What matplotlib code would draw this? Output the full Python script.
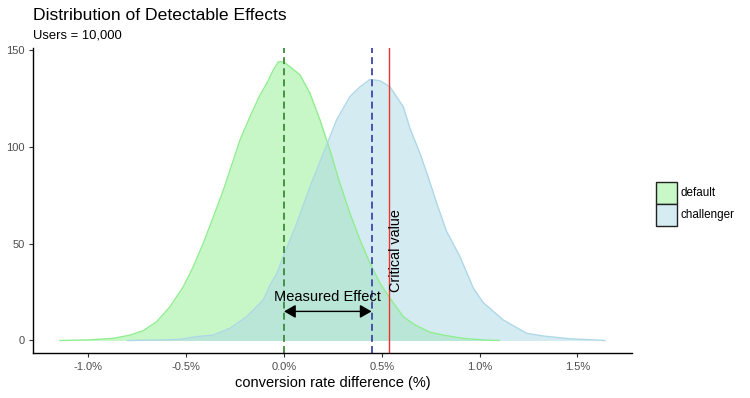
import matplotlib
matplotlib.use("Agg")
import matplotlib.pyplot as plt
from matplotlib.patches import Patch

plt.rcParams['font.family'] = ['Liberation Sans', 'DejaVu Sans']
plt.rcParams['lines.scale_dashes'] = False

# ---- data (x in %, density) ----
default_x = [-1.145, -1.0, -0.873, -0.787, -0.719, -0.651, -0.583, -0.515, -0.464, -0.413,
             -0.361, -0.310, -0.259, -0.225, -0.174, -0.123, -0.088, -0.055, -0.029, -0.003,
             0.031, 0.082, 0.133, 0.184, 0.235, 0.286, 0.337, 0.389, 0.440, 0.491,
             0.542, 0.61, 0.644, 0.678, 0.712, 0.746, 0.814, 0.917, 1.019, 1.10]
default_y = [0, 0.3, 1.1, 2.8, 5.1, 9.7, 17.4, 27.7, 38, 50.1,
             63.8, 77.6, 93, 103.4, 115.4, 126.5, 132.6, 139.4, 143.7, 143.7,
             141.1, 136.9, 127.4, 113.7, 98.2, 81, 65.6, 51.8, 39.8, 29.5,
             21.8, 12.3, 9.8, 7.6, 6.0, 4.3, 2.8, 1.1, 0.3, 0.0]

challenger_x = [-0.80, -0.60, -0.532, -0.446, -0.361, -0.276, -0.191, -0.106, -0.072, -0.037,
                -0.004, 0.065, 0.133, 0.201, 0.269, 0.337, 0.389, 0.440, 0.491, 0.542,
                0.61, 0.644, 0.695, 0.737, 0.781, 0.832, 0.900, 0.968, 1.019, 1.121,
                1.241, 1.326, 1.462, 1.641]
challenger_y = [0, 0.3, 0.6, 2.0, 2.8, 6.3, 12.3, 20.9, 28.5, 34.5,
                43.2, 60.4, 79.3, 96.5, 113.7, 125.7, 130.8, 134.6, 133.9, 130.8,
                120.5, 109.4, 96.5, 84.4, 70.7, 56.1, 43.2, 27.0, 19.5, 10.6,
                3.7, 2.3, 0.9, 0]

default_mean = 0.0
challenger_mean = 0.448
critical_value = 0.538
arrow_y = 15

x_ticks = [-1.0, -0.5, 0.0, 0.5, 1.0, 1.5]
x_ticklabels = ['-1.0%', '-0.5%', '0.0%', '0.5%', '1.0%', '1.5%']
y_ticks = [0, 50, 100, 150]
series_names = ['default', 'challenger']

W, H = 750, 398
fig = plt.figure(figsize=(W / 100, H / 100), dpi=100)
ax = fig.add_axes([33.3 / W, 1 - 353.3 / H, (631.7 - 33.3) / W, (353.3 - 48) / H])

green = '#90EE90'
blue = '#ADD8E6'

ax.fill_between(default_x, default_y, color=green, alpha=0.5, lw=0)
ax.plot(default_x, default_y, color=green, lw=1.0, solid_joinstyle='round')
ax.fill_between(challenger_x, challenger_y, color=blue, alpha=0.5, lw=0)
ax.plot(challenger_x, challenger_y, color=blue, lw=1.0, solid_joinstyle='round')

ax.axvline(default_mean, color='#3C8A3C', lw=1.3, dashes=(5, 3))
ax.axvline(challenger_mean, color='#3F46AA', lw=1.3, dashes=(5, 3))
ax.axvline(critical_value, color='#E8352D', lw=1.0)

ax.annotate('', xy=(default_mean, arrow_y), xytext=(challenger_mean, arrow_y),
            arrowprops=dict(arrowstyle='<|-|>,head_length=0.7,head_width=0.4',
                            color='black', lw=1.0, shrinkA=0, shrinkB=0))
ax.text((default_mean + challenger_mean) / 2, 22.6, 'Measured Effect',
        ha='center', va='center', fontsize=10.5, color='black')
ax.text(critical_value, 25.2, 'Critical value', rotation=90, ha='left', va='bottom',
        fontsize=10.4, color='black')

ax.set_xlim(-1.282, 1.778)
ax.set_ylim(-6.6, 150.8)
ax.set_xticks(x_ticks)
ax.set_xticklabels(x_ticklabels)
ax.set_yticks(y_ticks)
for s in ['top', 'right']:
    ax.spines[s].set_visible(False)
for s in ['left', 'bottom']:
    ax.spines[s].set_linewidth(1.0)
    ax.spines[s].set_color('black')
ax.tick_params(axis='both', length=3, width=0.8, color='#333333',
               labelsize=8, labelcolor='#4D4D4D', pad=3)
ax.set_xlabel('conversion rate difference (%)', fontsize=10.5, labelpad=3)

fig.text(33.3 / W, 1 - 20 / H, 'Distribution of Detectable Effects',
         fontsize=12.6, ha='left', va='baseline')
fig.text(33.3 / W, 1 - 38.3 / H, 'Users = 10,000',
         fontsize=9.4, ha='left', va='baseline')

handles = [Patch(facecolor=(0.5 * 144 / 255 + 0.5, 0.5 * 238 / 255 + 0.5, 0.5 * 144 / 255 + 0.5),
                 edgecolor='#222222', lw=1.0),
           Patch(facecolor=(0.5 * 173 / 255 + 0.5, 0.5 * 216 / 255 + 0.5, 0.5 * 230 / 255 + 0.5),
                 edgecolor='#222222', lw=1.0)]
fig.legend(handles, series_names, loc='upper left',
           bbox_to_anchor=(656 / W, 1 - 181.7 / H), frameon=False,
           fontsize=8.4, handlelength=1.8, handleheight=2.52, labelspacing=0,
           handletextpad=0.3, borderpad=0, borderaxespad=0)

fig.savefig('out.png', dpi=100)
